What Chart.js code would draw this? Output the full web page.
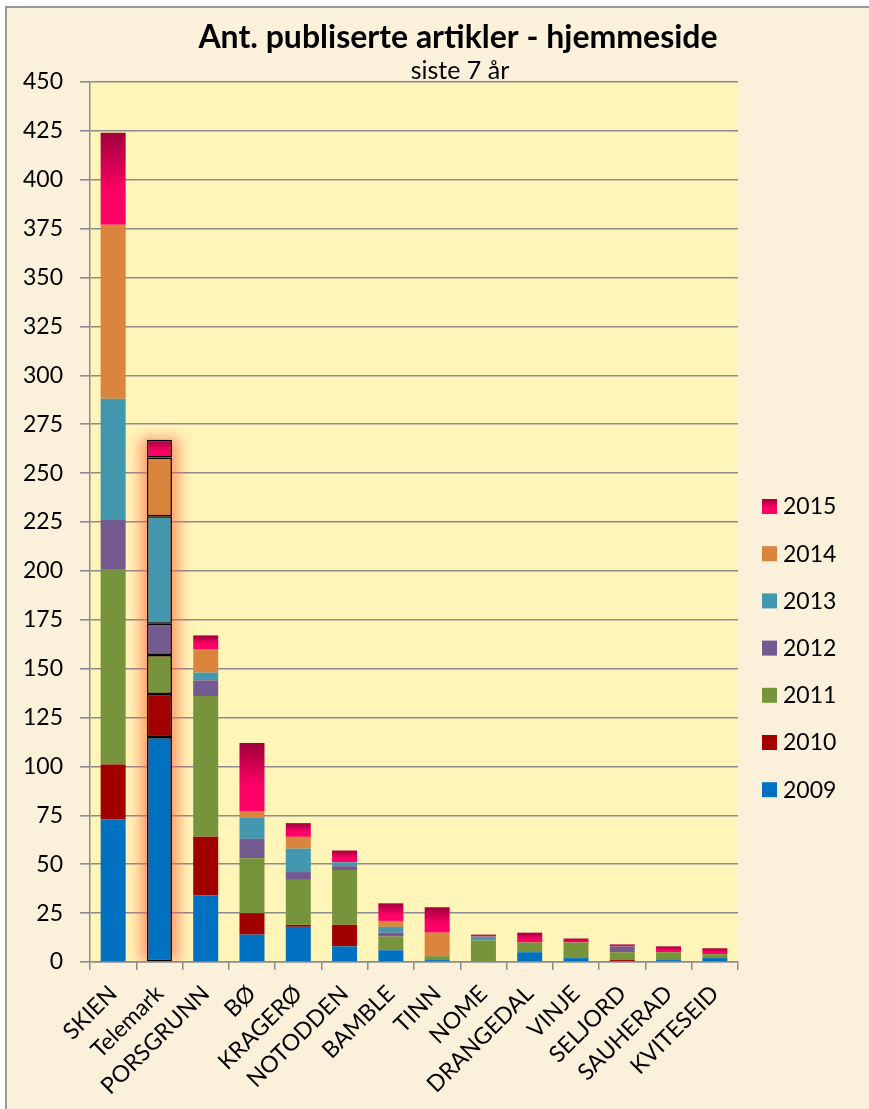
<!DOCTYPE html>
<html>
<head>
<meta charset="utf-8">
<script src="https://cdn.jsdelivr.net/npm/chart.js@4"></script>
<style>
  html, body { margin: 0; padding: 0; background: #fff; }
  #frame {
    position: absolute; left: 5px; top: 6px;
    width: 862px; height: 1101px;
    border-left: 2px solid #9a9a9a; border-top: 2px solid #9a9a9a;
    background: #fbf0da;
  }
  canvas { display: block; }
</style>
</head>
<body>
<div id="frame"><canvas id="chart" width="862" height="1101"></canvas></div>
<script>
const categories = ['SKIEN', 'Telemark', 'PORSGRUNN', 'BØ', 'KRAGERØ', 'NOTODDEN', 'BAMBLE',
    'TINN', 'NOME', 'DRANGEDAL', 'VINJE', 'SELJORD', 'SAUHERAD', 'KVITESEID'];
const years = ['2009', '2010', '2011', '2012', '2013', '2014', '2015'];

const y2009 = [73, 115, 34, 14, 18, 8, 6, 1, 0, 5, 2, 0, 1, 2];
const y2010 = [28, 22, 30, 11, 1, 11, 0, 0, 0, 0, 0, 1, 0, 0];
const y2011 = [100, 20, 72, 28, 23, 28, 7, 2, 11, 5, 8, 4, 4, 2];
const y2012 = [25, 16, 8, 10, 4, 2, 2, 0, 0, 0, 0, 3, 0, 0];
const y2013 = [62, 55, 4, 11, 12, 2, 3, 0, 2, 0, 0, 0, 0, 0];
const y2014 = [89, 30, 12, 3, 6, 0, 3, 12, 0, 0, 0, 0, 0, 0];
const y2015 = [47, 9, 7, 35, 7, 6, 9, 13, 1, 5, 2, 1, 3, 3];

const series = [y2009, y2010, y2011, y2012, y2013, y2014, y2015];
const colors = ['#0070c0', '#a00000', '#77933c', '#735b91', '#4398b0', '#db843d', '#ff0066'];

const FONT = 'Lato, "Open Sans", sans-serif';
const HIGHLIGHT = 1; // Telemark

// 2015 segments fade from dark red at the top into pink
function pinkFill(ctx) {
    const chart = ctx.chart;
    const y = chart.scales.y;
    if (ctx.type !== 'data' || !y) return colors[6];
    const i = ctx.dataIndex;
    const total = series.reduce((s, arr) => s + arr[i], 0);
    const yt = y.getPixelForValue(total);
    const yb = y.getPixelForValue(total - y2015[i]);
    if (!(yb > yt)) return colors[6];
    const g = chart.ctx.createLinearGradient(0, yt, 0, yb);
    g.addColorStop(0, '#a0003c');
    g.addColorStop(0.65, '#ff0066');
    g.addColorStop(1, '#ff0066');
    return g;
}

const datasets = series.map((vals, k) => ({
    label: years[k],
    data: vals,
    backgroundColor: k === 6 ? pinkFill : colors[k],
    borderColor: c => c.dataIndex === HIGHLIGHT ? '#000' : 'rgba(0,0,0,0)',
    borderWidth: c => c.dataIndex === HIGHLIGHT ? 1.5 : 0,
    borderSkipped: false
}));

const plotBg = {
    id: 'plotBg',
    beforeDraw(chart) {
        const { ctx, chartArea: a } = chart;
        ctx.save();
        ctx.fillStyle = '#fff5b9';
        ctx.fillRect(a.left, a.top, a.right - a.left, a.bottom - a.top);
        ctx.restore();
    }
};

const glow = {
    id: 'glow',
    beforeDatasetsDraw(chart) {
        const { ctx, chartArea: a } = chart;
        let top = Infinity, bottom = -Infinity, x = 0, w = 0;
        chart.data.datasets.forEach((d, k) => {
            const el = chart.getDatasetMeta(k).data[HIGHLIGHT];
            if (!el) return;
            top = Math.min(top, el.y, el.base);
            bottom = Math.max(bottom, el.y, el.base);
            x = el.x; w = el.width;
        });
        if (!isFinite(top)) return;
        ctx.save();
        ctx.beginPath();
        ctx.rect(a.left, a.top, a.right - a.left, a.bottom - a.top);
        ctx.clip();
        ctx.filter = 'blur(7px)';
        ctx.fillStyle = 'rgba(255, 95, 60, 0.6)';
        ctx.fillRect(x - w / 2 - 7, top - 2, w + 14, bottom - top + 2);
        ctx.restore();
    }
};

const header = {
    id: 'header',
    afterDraw(chart) {
        const ctx = chart.ctx;
        ctx.save();
        ctx.fillStyle = '#000';
        ctx.textAlign = 'center';
        ctx.textBaseline = 'middle';
        ctx.font = 'bold 32px ' + FONT;
        ctx.fillText('Ant. publiserte artikler - hjemmeside', 451, 30);
        ctx.font = '25px ' + FONT;
        ctx.fillText('siste 7 år', 453, 63);
        ctx.restore();
    }
};

const sideLegend = {
    id: 'sideLegend',
    afterDraw(chart) {
        const { ctx, chartArea: a } = chart;
        const x = a.right + 24;
        ctx.save();
        ctx.font = '23px ' + FONT;
        ctx.textBaseline = 'middle';
        ctx.textAlign = 'left';
        for (let n = 0; n < years.length; n++) {
            const k = years.length - 1 - n;
            const cy = a.top + 424 + n * 47.2;
            if (k === 6) {
                const g = ctx.createLinearGradient(0, cy - 7, 0, cy + 8);
                g.addColorStop(0, '#a0003c');
                g.addColorStop(0.6, '#ff0066');
                ctx.fillStyle = g;
            } else {
                ctx.fillStyle = colors[k];
            }
            ctx.fillRect(x, cy - 7, 15, 15);
            ctx.fillStyle = '#000';
            ctx.fillText(years[k], x + 21, cy + 1);
        }
        ctx.restore();
    }
};

new Chart(document.getElementById('chart'), {
    type: 'bar',
    data: { labels: categories, datasets },
    plugins: [plotBg, glow, header, sideLegend],
    options: {
        responsive: false,
        animation: false,
        barPercentage: 0.54,
        categoryPercentage: 1,
        layout: { padding: { top: 74, right: 131, left: 0, bottom: 0 } },
        plugins: {
            legend: { display: false },
            title: { display: false },
            tooltip: { enabled: false }
        },
        scales: {
            x: {
                stacked: true,
                afterFit: s => { s.height = 147; },
                grid: { drawOnChartArea: false, color: '#8c8c8c', lineWidth: 1.5, tickLength: 8 },
                border: { color: '#8c8c8c', width: 1.5 },
                ticks: {
                    color: '#000', font: { family: FONT, size: 23 }, padding: 10,
                    minRotation: 45, maxRotation: 45, autoSkip: false
                }
            },
            y: {
                stacked: true,
                min: 0, max: 450,
                afterFit: s => { s.width = 83; },
                grid: { color: '#8c8c8c', lineWidth: 1.6, tickLength: 10 },
                border: { color: '#8c8c8c', width: 1.5 },
                ticks: { stepSize: 25, color: '#000', padding: 17, font: { family: FONT, size: 23 } }
            }
        }
    }
});
</script>
</body>
</html>
